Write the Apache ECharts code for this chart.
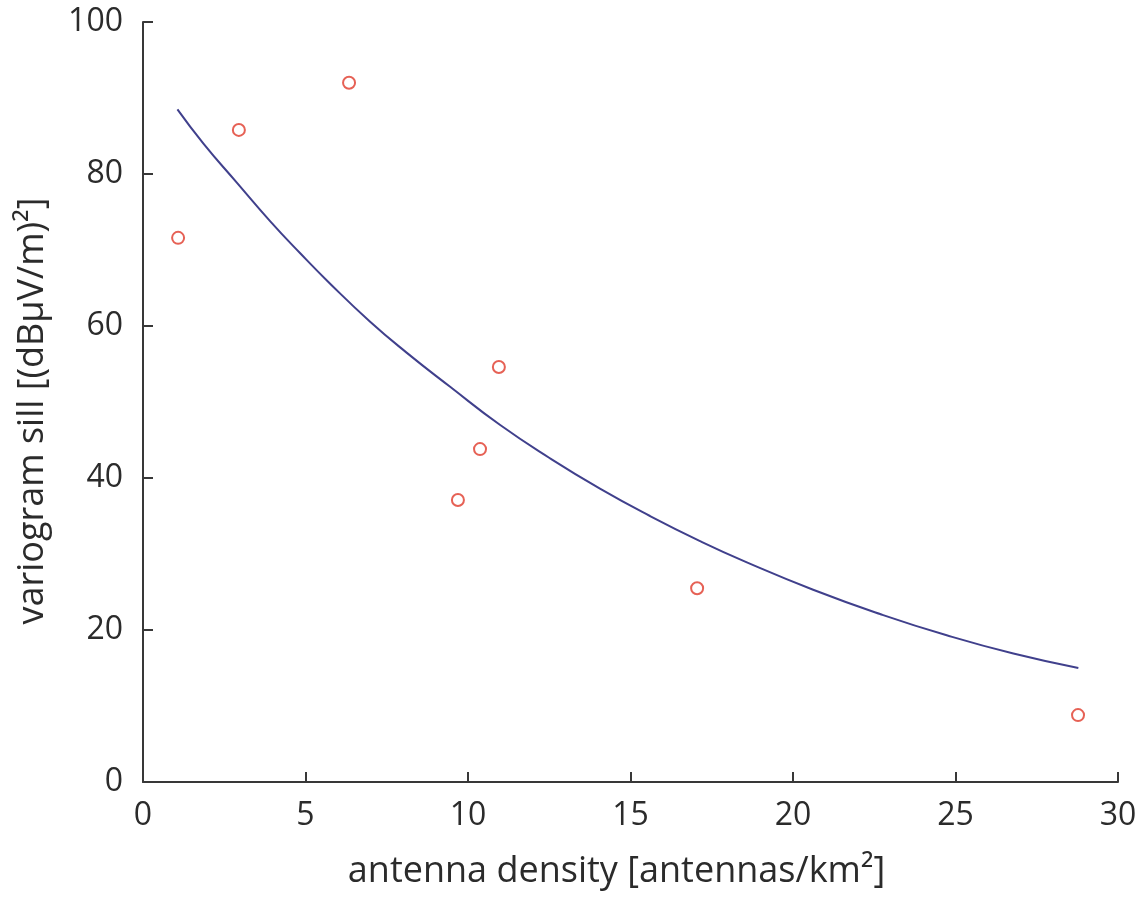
<!DOCTYPE html>
<html>
<head>
<meta charset="utf-8">
<script src="https://cdn.jsdelivr.net/npm/echarts@6/dist/echarts.min.js"></script>
<style>
  html, body { margin: 0; padding: 0; background: #ffffff; }
  #chart { width: 1141px; height: 898px; }
</style>
</head>
<body>
<div id="chart"></div>
<script>
// Measured variogram sill per site against antenna density
const densityObs = [1.08, 2.95, 6.34, 9.69, 10.37, 10.95, 17.05, 28.77];
const sillObs    = [71.6, 85.8, 92.0, 37.1, 43.8, 54.6, 25.5, 8.8];

// Fitted decay curve, sampled along its trace
const densityFit = [1.06, 1.86, 2.88, 3.91, 4.83, 5.75, 6.98, 8.11, 9.45, 10.98, 12.52, 14.06, 15.60, 17.14, 18.58, 20.62, 22.68, 24.73, 26.78, 28.78];
const sillFit    = [88.5, 84.0, 78.9, 73.8, 69.6, 65.6, 60.6, 56.5, 52.0, 47.0, 42.6, 38.6, 35.0, 31.7, 28.9, 25.3, 22.1, 19.3, 16.9, 15.0];

const xTicks = { min: 0, max: 30, interval: 5 };
const yTicks = { min: 0, max: 100, interval: 20 };

const FONT = 'Open Sans';
const INK = '#2b2b2b';

const chart = echarts.init(document.getElementById('chart'), null, { renderer: 'canvas' });

const axisCommon = {
  axisLine: { show: true, onZero: false, lineStyle: { color: '#383838', width: 2 } },
  axisTick: { show: true, inside: true, length: 10, lineStyle: { color: '#383838', width: 2 } },
  splitLine: { show: false },
  axisLabel: { color: INK, fontFamily: FONT, fontSize: 32 },
  nameLocation: 'middle'
};

chart.setOption({
  backgroundColor: '#ffffff',
  animation: false,
  grid: { left: 143, right: 23, top: 22, bottom: 116, containLabel: false },
  xAxis: Object.assign({}, axisCommon, {
    type: 'value',
    min: xTicks.min, max: xTicks.max, interval: xTicks.interval,
    name: 'antenna density [antennas/km²]',
    nameGap: 72,
    nameTextStyle: { color: INK, fontFamily: FONT, fontSize: 36, padding: [0, 28, 0, 0] },
    axisLabel: Object.assign({}, axisCommon.axisLabel, { margin: 18 })
  }),
  yAxis: Object.assign({}, axisCommon, {
    type: 'value',
    min: yTicks.min, max: yTicks.max, interval: yTicks.interval,
    name: 'variogram sill [(dBμV/m)²]',
    nameGap: 92,
    nameTextStyle: { color: INK, fontFamily: FONT, fontSize: 36, padding: [0, 18, 0, 0] },
    axisLabel: Object.assign({}, axisCommon.axisLabel, { margin: 20 })
  }),
  series: [
    {
      name: 'fit',
      type: 'line',
      data: densityFit.map((x, i) => [x, sillFit[i]]),
      smooth: 0.5,
      showSymbol: false,
      lineStyle: { color: '#40408c', width: 2 },
      z: 2
    },
    {
      name: 'observed',
      type: 'scatter',
      data: densityObs.map((x, i) => [x, sillObs[i]]),
      symbol: 'circle',
      symbolSize: 12,
      itemStyle: { color: 'rgba(255,255,255,0)', borderColor: '#e0392b', borderWidth: 2 },
      z: 3
    }
  ]
});
</script>
</body>
</html>
